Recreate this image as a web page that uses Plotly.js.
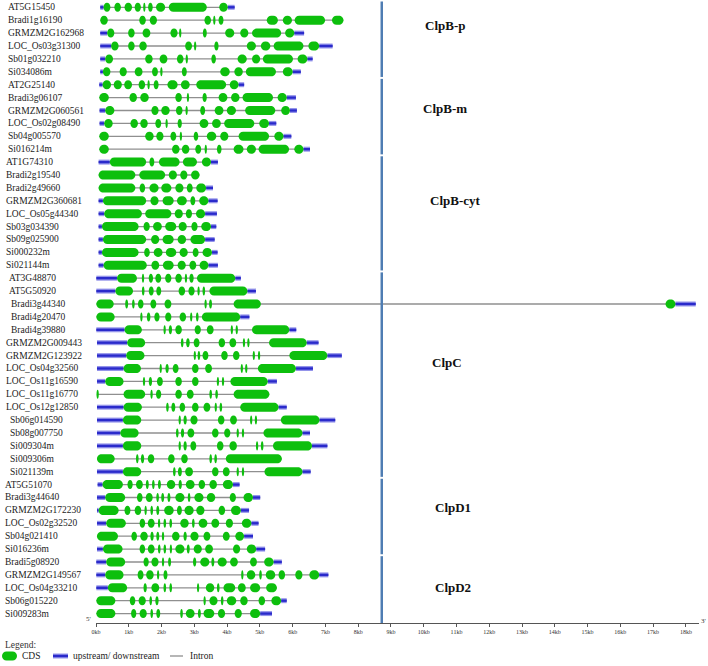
<!DOCTYPE html>
<html><head><meta charset="utf-8">
<script src="https://cdn.plot.ly/plotly-3.0.1.min.js"></script>
<style>html,body{margin:0;padding:0;background:#fff}#chart{width:708px;height:666px}</style>
</head><body><div id="chart"></div>
<script>
// ---------------- DATA ----------------
const geneNames = [
 'AT5G15450','Bradi1g16190','GRMZM2G162968','LOC_Os03g31300','Sb01g032210','Si034086m',
 'AT2G25140','Bradi3g06107','GRMZM2G060561','LOC_Os02g08490','Sb04g005570','Si016214m',
 'AT1G74310','Bradi2g19540','Bradi2g49660','GRMZM2G360681','LOC_Os05g44340','Sb03g034390','Sb09g025900','Si000232m','Si021144m',
 'AT3G48870','AT5G50920','Bradi3g44340','Bradi4g20470','Bradi4g39880','GRMZM2G009443','GRMZM2G123922','LOC_Os04g32560',
 'LOC_Os11g16590','LOC_Os11g16770','LOC_Os12g12850','Sb06g014590','Sb08g007750','Si009304m','Si009306m','Si021139m',
 'AT5G51070','Bradi3g44640','GRMZM2G172230','LOC_Os02g32520','Sb04g021410','Si016236m',
 'Bradi5g08920','GRMZM2G149567','LOC_Os04g33210','Sb06g015220','Si009283m'
];
const groupNames = ['ClpB-p','ClpB-m','ClpB-cyt','ClpC','ClpD1','ClpD2'];
const groupSizes = [6,6,9,16,6,5];

// upstream (5') segments in kb, null = none
const utr5 = [
 [0.13,0.23],null,[0.13,0.34],[0.13,0.46],[0.13,0.28],[0.13,0.21],
 [0.10,0.20],null,[0.11,0.28],[0.11,0.25],null,null,
 [0.08,0.42],null,null,[0.08,0.21],[0.08,0.25],[0.08,0.18],[0.08,0.21],[0.08,0.18],[0.08,0.23],
 [0.01,0.64],[0.01,0.59],null,null,[0.01,0.87],[0.03,0.95],[0.03,0.92],[0.03,0.84],
 [0.03,0.28],null,[0.03,0.84],[0.03,0.82],[0.03,0.74],[0.03,0.82],null,[0.03,0.82],
 [0.05,0.20],[0.03,0.28],[0.03,0.08],[0.03,0.31],null,[0.03,0.21],
 [0.01,0.31],[0.01,0.28],[0.01,0.36],null,null
];
// downstream (3') segments in kb
const utr3 = [
 [4.02,4.23],null,[6.05,6.35],[6.81,7.22],[6.45,6.61],[6.00,6.25],
 [4.35,4.52],[5.82,6.10],[5.92,6.13],[5.28,5.50],[5.72,5.96],[6.33,6.53],
 [3.51,3.72],null,[3.36,3.57],[3.43,3.71],[3.33,3.69],[3.51,3.67],[3.33,3.62],[3.54,3.71],[3.43,3.72],
 [4.25,4.42],[4.62,4.88],[17.68,18.30],[4.40,4.68],[5.90,6.11],[6.43,6.79],[7.06,7.50],[6.10,6.62],
 [5.24,5.52],null,[5.57,5.82],[6.82,7.30],[6.30,6.53],[6.59,7.06],null,[6.30,6.55],
 [4.18,4.38],[4.79,5.01],[4.42,4.67],[4.74,4.96],[4.52,4.79],[4.89,5.16],
 [5.42,5.67],[6.81,7.09],null,[5.65,5.82],[5.01,5.37]
];
// CDS exons: flat start,end pairs in kb
const cds = [
 [0.23,0.44,0.56,0.76,0.87,1.10,1.18,1.37,1.45,1.50,1.59,1.73,1.83,2.11,2.22,3.38,3.76,4.02],
 [0.13,0.36,1.32,1.52,1.64,1.86,3.31,3.51,3.59,3.63,3.74,3.89,5.21,5.55,5.70,5.98,6.06,6.99,7.20,7.55],
 [0.34,0.56,0.98,1.18,1.42,1.66,2.27,2.49,2.55,2.59,3.26,3.38,3.94,4.22,4.40,4.65,4.76,5.65,5.77,6.05],
 [0.46,0.69,0.98,1.18,1.32,1.55,2.72,2.93,3.00,3.05,3.61,3.74,4.60,4.88,5.03,5.32,5.42,6.33,6.48,6.81],
 [0.28,0.52,1.50,1.73,1.94,2.18,2.47,2.67,2.75,2.79,3.52,3.66,4.32,4.60,4.76,5.01,5.09,6.01,6.15,6.45],
 [0.21,0.44,0.72,0.94,1.18,1.42,1.71,1.89,1.97,2.02,2.62,2.77,3.79,4.08,4.22,4.48,4.57,5.49,5.70,6.00],
 [0.20,0.46,0.54,0.79,0.86,1.10,1.30,1.50,1.58,1.63,1.76,1.91,2.18,2.49,2.59,2.86,3.06,3.97,4.08,4.35],
 [0.10,0.39,1.02,1.25,1.35,1.61,2.42,2.62,2.78,2.83,3.25,3.38,3.74,4.01,4.12,4.38,4.47,5.40,5.54,5.82],
 [0.28,0.56,1.69,1.91,1.99,2.25,2.44,2.64,2.74,2.79,3.18,3.33,3.62,3.89,3.99,4.27,4.55,5.47,5.65,5.92],
 [0.25,0.51,1.05,1.28,1.35,1.58,1.81,1.99,2.13,2.18,2.49,2.62,3.16,3.43,3.54,3.81,3.91,4.83,4.98,5.28],
 [0.10,0.39,1.50,1.76,1.84,2.06,2.27,2.45,2.57,2.61,2.98,3.12,3.38,3.67,3.79,4.04,4.35,5.28,5.44,5.72],
 [0.10,0.39,2.32,2.55,2.62,2.85,3.03,3.21,3.33,3.37,3.69,3.83,4.20,4.50,4.60,4.88,4.96,5.89,6.05,6.33],
 [0.42,1.53,1.63,1.78,1.92,2.55,2.65,3.08,3.23,3.51],
 [0.08,1.20,1.32,2.11,2.22,2.47,2.57,2.79,2.90,3.16],
 [0.08,1.20,1.33,1.50,1.63,1.91,1.99,2.30,2.42,2.67,2.77,2.95,3.06,3.36],
 [0.21,1.53,1.66,1.91,2.03,2.37,2.47,2.77,2.88,3.03,3.15,3.43],
 [0.25,1.40,1.50,2.30,2.40,2.65,2.74,2.93,3.05,3.33],
 [0.18,1.30,1.45,1.64,1.74,2.01,2.11,2.45,2.52,2.77,2.91,3.10,3.21,3.51],
 [0.21,1.53,1.68,1.93,2.03,2.37,2.49,2.75,2.88,3.33],
 [0.18,1.30,1.47,1.64,1.76,2.03,2.13,2.45,2.55,2.80,2.95,3.13,3.25,3.54],
 [0.23,1.55,1.69,1.93,2.04,2.37,2.49,2.74,2.85,3.06,3.16,3.43],
 [0.64,1.25,1.40,1.47,1.61,1.74,1.81,1.99,2.11,2.30,2.42,2.62,2.72,2.77,2.85,2.98,3.08,4.25],
 [0.59,1.13,1.40,1.48,1.61,1.76,1.84,1.99,2.52,2.72,2.82,3.01,3.10,3.16,3.25,3.33,3.46,4.62],
 [0.01,0.54,0.89,0.98,1.10,1.18,1.28,1.45,1.66,1.84,2.09,2.30,3.31,3.38,3.45,3.54,4.20,5.03,17.38,17.68],
 [0.01,0.57,1.35,1.42,1.55,1.66,1.78,1.94,2.11,2.30,2.55,2.75,2.88,2.93,3.05,3.13,3.23,4.40],
 [0.87,1.40,2.06,2.13,2.22,2.32,2.42,2.62,3.01,3.20,3.38,3.59,4.12,4.17,4.27,4.32,4.76,5.90],
 [0.95,1.50,2.59,2.67,2.75,2.86,2.98,3.16,3.74,3.94,4.07,4.28,4.48,4.55,4.62,4.68,5.28,6.43],
 [0.92,1.48,2.98,3.05,3.10,3.18,3.25,3.43,3.82,4.02,4.18,4.38,4.79,4.84,4.94,5.01,5.90,7.06],
 [0.84,1.37,1.94,2.01,2.12,2.22,2.34,2.52,2.93,3.13,3.33,3.54,4.42,4.48,4.55,4.62,4.94,6.10],
 [0.28,0.84,1.43,1.50,1.61,1.71,1.86,2.04,2.42,2.62,2.93,3.13,3.69,3.75,3.84,3.91,4.10,5.24],
 [0.03,0.07,0.84,1.50,1.66,1.73,1.83,1.99,2.42,2.62,2.77,2.98,3.46,3.54,3.64,3.72,4.20,5.29],
 [0.84,1.40,2.14,2.22,2.30,2.42,2.55,2.72,2.93,3.13,3.28,3.49,3.62,3.69,3.77,3.85,4.40,5.57],
 [0.82,1.38,2.52,2.59,2.67,2.77,2.88,3.10,3.72,3.92,4.09,4.30,4.70,4.77,4.85,4.91,5.64,6.82],
 [0.74,1.30,2.44,2.52,2.59,2.69,2.79,3.00,3.54,3.74,3.91,4.10,4.30,4.35,4.45,4.52,5.11,6.30],
 [0.82,1.38,2.52,2.59,2.67,2.77,2.88,3.06,3.69,3.89,4.07,4.30,4.89,4.94,5.03,5.11,5.40,6.59],
 [0.03,0.57,1.22,1.30,1.37,1.47,1.58,1.78,2.20,2.40,2.60,2.80,3.46,3.54,3.61,3.69,3.96,5.67],
 [0.82,1.38,2.35,2.43,2.50,2.62,2.72,2.96,3.54,3.74,3.87,4.08,4.30,4.35,4.45,4.52,5.14,6.30],
 [0.20,0.82,0.96,1.12,1.22,1.43,1.52,1.61,1.71,1.79,1.89,1.98,2.16,2.42,2.52,2.62,2.74,3.01,3.13,3.33,3.46,3.69,3.87,4.18],
 [0.28,0.89,1.25,1.42,1.52,1.73,1.84,1.92,1.99,2.08,2.18,2.27,2.42,2.70,2.80,2.88,3.00,3.28,3.38,3.64,4.08,4.27,4.50,4.79],
 [0.08,0.69,0.87,1.05,1.18,1.38,1.48,1.55,1.66,1.74,1.84,1.93,2.08,2.37,2.47,2.62,2.70,2.98,3.06,3.31,3.74,3.94,4.12,4.42],
 [0.31,0.91,1.33,1.50,1.58,1.79,1.89,1.96,2.06,2.14,2.24,2.32,2.57,2.83,2.93,3.01,3.13,3.40,3.52,3.76,3.96,4.18,4.45,4.74],
 [0.03,0.67,1.08,1.25,1.35,1.58,1.66,1.76,1.84,1.93,2.01,2.08,2.32,2.55,2.67,2.77,2.88,3.13,3.28,3.49,3.87,4.08,4.25,4.52],
 [0.21,0.81,1.33,1.50,1.58,1.79,1.89,1.97,2.06,2.14,2.25,2.32,2.42,2.70,2.77,2.86,2.98,3.23,3.33,3.57,4.18,4.40,4.60,4.89],
 [0.31,0.89,1.45,1.61,1.69,1.91,2.01,2.08,2.20,2.29,2.96,3.06,3.18,3.46,3.52,3.61,3.71,3.99,4.09,4.33,4.70,4.91,5.13,5.42],
 [0.28,0.84,1.27,1.45,1.53,1.76,1.86,1.93,2.06,2.18,4.43,4.50,4.60,4.86,4.98,5.06,5.18,5.47,5.57,5.77,6.08,6.30,6.51,6.81],
 [0.36,0.95,1.45,1.55,1.69,1.93,2.06,2.14,2.24,2.32,3.08,3.15,3.35,3.61,3.69,3.77,3.89,4.25,4.33,4.57,4.70,5.01,5.19,5.52],
 [0.01,0.59,1.03,1.20,1.30,1.52,1.63,1.71,1.81,1.91,3.28,3.35,3.46,3.71,3.81,3.89,3.99,4.28,4.40,4.63,4.96,5.16,5.35,5.65],
 [0.01,0.59,1.07,1.23,1.33,1.55,1.66,1.74,1.84,1.96,2.57,2.65,2.74,3.01,3.11,3.20,3.28,3.61,3.72,3.94,4.23,4.45,4.70,5.01]
];
const tickValues = [0,1,2,3,4,5,6,7,8,9,10,11,12,13,14,15,16,17,18];
const tickLabels = ['0kb','1kb','2kb','3kb','4kb','5kb','6kb','7kb','8kb','9kb','10kb','11kb','12kb','13kb','14kb','15kb','16kb','17kb','18kb'];
const legendLabels = ['CDS','upstream/ downstream','Intron'];

// ---------------- LAYOUT CONSTANTS ----------------
const W = 708, H = 666;
const M = {l:96, r:9, t:0, b:43};
const PW = W - M.l - M.r, PH = H - M.t - M.b;
const XR = [0, 18.4];
const YR = [-47.73, 0.566];
const GREEN = '#0dbf0d', BLUE_D = '#2a2acb', BLUE_L = '#9494ea', GREY = '#8f8f8f';
const DIVIDER_KB = 8.72;
// left edge (px) of each gene label
const labelIndent = [];
for (let i = 0; i < geneNames.length; i++) {
  let v = 6;
  if (i >= 12 && i <= 20) v = 4;
  else if (i >= 21 && i <= 22) v = 7;
  else if (i >= 23 && i <= 25) v = 8.5;
  else if (i >= 26 && i <= 31) v = 3.5;
  else if (i >= 32 && i <= 36) v = 7.5;
  else if (i >= 37) v = 3;
  labelIndent.push(v);
}
const groupLabelPx = [[444.5,25],[445,108],[455,200],[446.7,362],[453,507],[453,587]];

const px2x = px => (px - M.l) / PW;
const py2y = py => (M.t + PH - py) / PH;

// stadium-shaped path (rounded ends)
function stadium(x0, x1, yc, rx, ry) {
  const k = 0.5523;
  const r = Math.min(rx, (x1 - x0) / 2);
  const a = x0 + r, b = x1 - r;
  return `M${a},${yc+ry} L${b},${yc+ry} C${b+k*r},${yc+ry} ${x1},${yc+k*ry} ${x1},${yc} ` +
         `C${x1},${yc-k*ry} ${b+k*r},${yc-ry} ${b},${yc-ry} L${a},${yc-ry} ` +
         `C${a-k*r},${yc-ry} ${x0},${yc-k*ry} ${x0},${yc} C${x0},${yc+k*ry} ${a-k*r},${yc+ry} ${a},${yc+ry} Z`;
}

// ---------------- TRACES ----------------
const intronX = [], intronY = [], utrX = [], utrY = [];
const shapes = [];
const RX = 0.14, RY = 0.35, MINW = 0.07;
geneNames.forEach((g, i) => {
  const y = -i;
  const ex = cds[i];
  let s = ex[0], e = ex[ex.length - 1];
  if (utr5[i]) s = Math.min(s, utr5[i][0]);
  if (utr3[i]) e = Math.max(e, utr3[i][1]);
  intronX.push(s, e, null); intronY.push(y, y, null);
  [utr5[i], utr3[i]].forEach(u => { if (u) { utrX.push(u[0], u[1], null); utrY.push(y, y, null); } });
  for (let j = 0; j < ex.length; j += 2) {
    let a = ex[j], b = ex[j + 1];
    if (b - a < MINW) { const c = (a + b) / 2; a = c - MINW / 2; b = c + MINW / 2; }
    shapes.push({type:'path', xref:'x', yref:'y', path: stadium(a, b, y, RX, RY),
                 fillcolor: GREEN, line:{width:0}, layer:'above'});
  }
});

const traces = [
  {x:intronX, y:intronY, mode:'lines', line:{color:GREY, width:1.3}, hoverinfo:'skip', showlegend:false},
  {x:utrX, y:utrY, mode:'lines', line:{color:BLUE_L, width:5}, hoverinfo:'skip', showlegend:false},
  {x:utrX, y:utrY, mode:'lines', line:{color:BLUE_D, width:2.4}, hoverinfo:'skip', showlegend:false}
];

// group divider lines
let row = 0;
groupSizes.forEach((n, gi) => {
  const first = row, last = row + n - 1;
  const y0 = -first + 0.45;
  const y1 = gi === groupSizes.length - 1 ? YR[0] : -last - 0.4;
  shapes.push({type:'line', xref:'x', yref:'y', x0:DIVIDER_KB, x1:DIVIDER_KB, y0:y0, y1:y1,
               line:{color:'#4f7db3', width:2.5}, layer:'above'});
  row += n;
});

// legend glyphs (paper coords)
const legY = py2y(656);
const pxH = 1 / PH, pxW = 1 / PW;
shapes.push({type:'path', xref:'paper', yref:'paper',
  path: stadium(px2x(2), px2x(17), legY, 4.5*pxW, 4.5*pxH), fillcolor:GREEN, line:{width:0}});
shapes.push({type:'line', xref:'paper', yref:'paper', x0:px2x(53), x1:px2x(68), y0:legY, y1:legY, line:{color:BLUE_L, width:5}});
shapes.push({type:'line', xref:'paper', yref:'paper', x0:px2x(53), x1:px2x(68), y0:legY, y1:legY, line:{color:BLUE_D, width:2.4}});
shapes.push({type:'line', xref:'paper', yref:'paper', x0:px2x(170), x1:px2x(183), y0:legY, y1:legY, line:{color:GREY, width:1.3}});

// ---------------- ANNOTATIONS ----------------
const SERIF = 'Liberation Serif, Times New Roman, serif';
const annotations = [];
geneNames.forEach((g, i) => {
  annotations.push({xref:'paper', yref:'y', x:px2x(labelIndent[i]), y:-i, text:g, showarrow:false,
    xanchor:'left', yanchor:'middle', font:{family:SERIF, size:9.5, color:'#1c1c1c'}});
});
groupNames.forEach((g, gi) => {
  const p = groupLabelPx[gi];
  annotations.push({xref:'paper', yref:'paper', x:px2x(p[0]), y:py2y(p[1]), text:'<b>'+g+'</b>', showarrow:false,
    xanchor:'center', yanchor:'middle', font:{family:SERIF, size:13, color:'#111'}});
});
annotations.push({xref:'paper', yref:'paper', x:px2x(88), y:py2y(619), text:"5'", showarrow:false,
  xanchor:'center', yanchor:'middle', font:{family:SERIF, size:7, color:'#333'}});
annotations.push({xref:'paper', yref:'paper', x:px2x(703), y:py2y(621), text:"3'", showarrow:false,
  xanchor:'center', yanchor:'middle', font:{family:SERIF, size:7, color:'#333'}});
annotations.push({xref:'paper', yref:'paper', x:px2x(3), y:py2y(645), text:'Legend:', showarrow:false,
  xanchor:'left', yanchor:'middle', font:{family:SERIF, size:9.5, color:'#333'}});
const legTextPx = [20, 71, 188];
legendLabels.forEach((t, k) => {
  annotations.push({xref:'paper', yref:'paper', x:px2x(legTextPx[k]), y:legY, text:t, showarrow:false,
    xanchor:'left', yanchor:'middle', font:{family:SERIF, size:9.5, color:'#222'}});
});

const layout = {
  width:W, height:H, margin:M, paper_bgcolor:'#fff', plot_bgcolor:'#fff', showlegend:false,
  xaxis:{range:XR, showgrid:false, zeroline:false, showline:true, linecolor:'#555', linewidth:1,
         ticks:'outside', ticklen:3, tickwidth:1, tickcolor:'#555',
         tickvals:tickValues, ticktext:tickLabels,
         tickfont:{family:SERIF, size:6, color:'#333'}, fixedrange:true},
  yaxis:{range:YR, visible:false, fixedrange:true},
  shapes:shapes, annotations:annotations
};

Plotly.newPlot('chart', traces, layout, {staticPlot:true, displayModeBar:false});
</script>
</body></html>
